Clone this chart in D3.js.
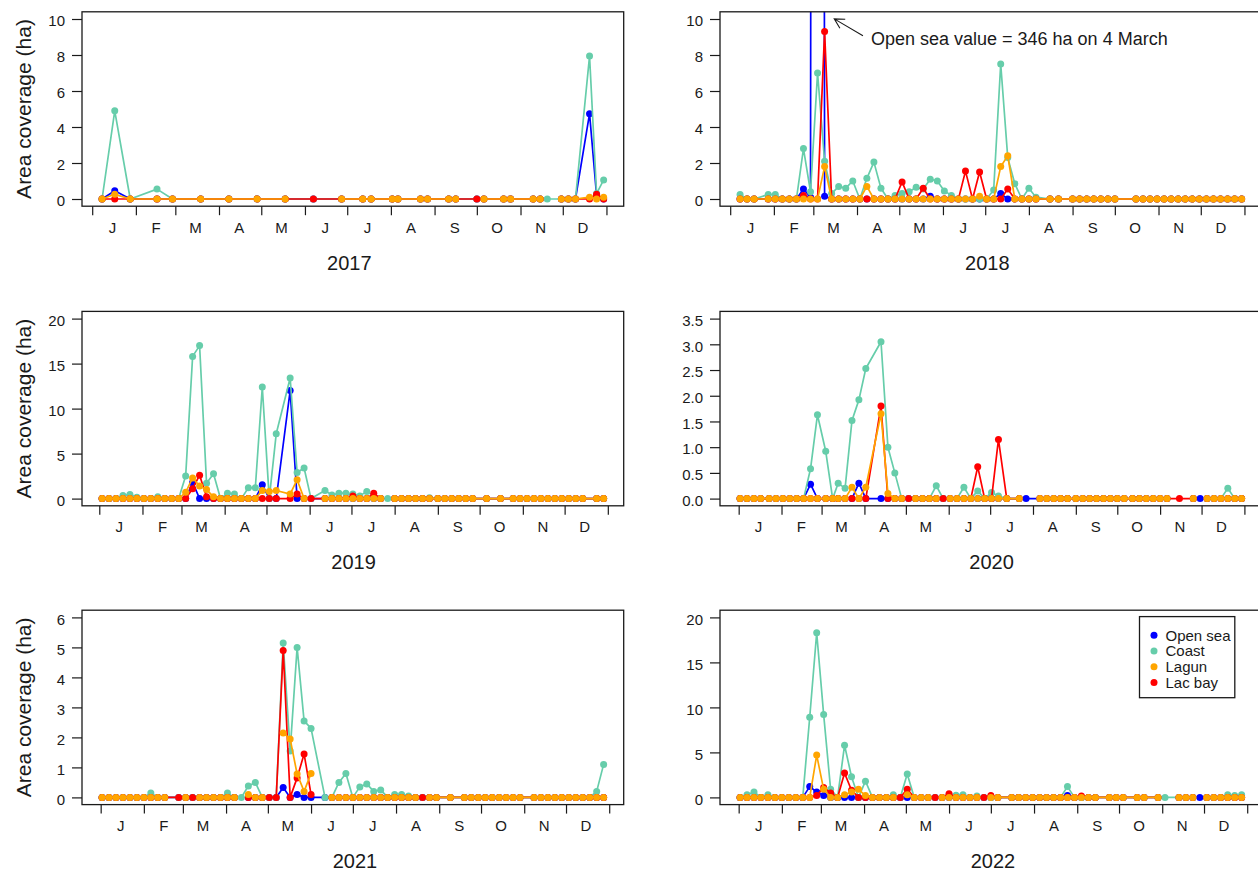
<!DOCTYPE html>
<html>
<head>
<meta charset="utf-8">
<script src="https://cdn.jsdelivr.net/npm/d3@7"></script>
<style>
  body { margin: 0; background: #fff; }
  svg { display: block; font-family: "Liberation Sans", Arial, sans-serif; }
</style>
</head>
<body>
<svg id="chart" width="1258" height="873"></svg>
<script>
// ---- Sargassum area coverage (ha) per site, sampled roughly every 5 days ----
// Sample dates are day-of-year (1 = 1 January); null = site not observed on that date.

const monthLabels = ["J", "F", "M", "A", "M", "J", "J", "A", "S", "O", "N", "D"];
const seriesNames = ["Open sea", "Coast", "Lagun", "Lac bay"];
const seriesColors = ["#0000FF", "#66CDAA", "#FFA500", "#FF0000"];
const yLabel = "Area coverage (ha)";
const note2018 = "Open sea value = 346 ha on 4 March";

// 2017
const dayOfYear2017 = [8,17,28,47,58,78,98,118,138,158, 178,193,199,214,218,234,239,254,259,274,
  279,293,298,314,319,324,334,339,344,354, 359,364];
const openSea2017 = [0,0.46,0,0,0,0,0,0,0,0, 0,0,0,0,0,0,0,0,0,0, 0,0,0,0,0,null,0,0,0,4.74, 0.2,0];
const coast2017   = [0,4.9,0,0.55,0,0,0,0,0,0, 0,0,0,0,0,0,0,0,0,0, 0,0,0,0,0,0,0,0,0,7.94, 0.3,1.06];
const lagun2017   = [0,0.26,0,0,0,0,0,0,0,null, 0,0,0,0,0,0,0,0,0,null, 0,0,0,0,0,null,0,0,0,0.1, 0,0.1];
const lacBay2017  = [0,0,0,0,0,0,0,0,0,0, 0,0,0,0,0,0,0,0,0,0, 0,0,0,0,0,null,0,0,0,0, 0.26,0];
const yTicks2017 = [0, 2, 4, 6, 8, 10];

// 2018
const dayOfYear2018 = [8,13,18,28,33,38,43,48,53,58, 63,68,73,78,83,88,93,98,103,108,
  113,118,123,128,133,138,143,148,153,158, 163,168,173,178,183,188,193,198,203,208,
  213,218,228,234,244,249,254,259,264,269, 274,289,294,299,304,309,314,319,324,329,
  334,339,344,349,354,359,364];
const openSea2018 = [0,0,0,0,0,0,0,0,0.55,0.1, 346,0.15,0,0,0,0,0,0,0,0, 0,0,0,0,0,0,0.15,0,0,0,
  0,0,0,0,0,0,0.3,0,0,0, 0,0,0,0,0,0,0,0,0,0, 0,0,0,0,0,0,0,0,0,0, 0,0,0,0,0,0,0];
const coast2018   = [0.25,0,0,0.25,0.25,0,0,0,2.8,0.4, 7.0,2.1,0.3,0.7,0.6,1.0,0,1.15,2.05,0.6,
  0,0.2,0.3,0.4,0.65,0.55,1.1,1.0,0.45,0.2, 0,0,0,0,0,0.5,7.5,2.3,0.85,0,
  0.6,0.1,0,0,0,0,0,0,0,0, 0,0,0,0,0,0,0,0,0,0, 0,0,0,0,0,0,0];
const lagun2018   = [0,0,0,0,0,0,0,0,0,0, 0,1.8,0,0,0,0,0,0.7,0,0, 0,0,0,0,0,0,0,0,0,0,
  0,0,0,0.15,0,0,1.8,2.4,0,0, 0,0,0,0,0,0,0,0,0,0, 0,0,0,0,0,0,0,0,0,0, 0,0,0,0,0,0,0];
const lacBay2018  = [0,0,0,0,0,0,0,0,0.2,0, 0,9.3,0,0,0,0,0,0,0,0, 0,0,0.95,0,0,0.6,0,0,0,0,
  0,1.55,0,1.5,0,0,0,0.55,0,0, 0,0,0,0,0,0,0,0,0,0, 0,0,0,0,0,0,0,0,0,0, 0,0,0,0,0,0,0];
const yTicks2018 = [0, 2, 4, 6, 8, 10];

// 2019
const dayOfYear2019 = [3,8,13,18,23,28,33,38,43,48, 53,58,63,68,73,78,83,88,93,98,
  103,108,113,118,123,128,138,143,148,153, 163,168,173,178,183,188,193,198,203,208,
  213,218,223,228,233,238,244,249,254,259, 264,269,279,289,298,303,308,313,318,323,
  328,333,338,343,348,358,363];
const openSea2019 = [0,0,0,0,0,0,0,0,0,0, 0,0,0,1.8,0,0,0,0,0,0, 0,0,0,1.55,0,0,12.0,0,0,0,
  0,0,0,0,0,0,0,0,0,null, 0,0,0,0,0,0,0,0,0,0, 0,0,0,0,0,0,0,0,0,0, 0,0,0,0,0,0,0];
const coast2019   = [0,0,0,0.35,0.45,0.15,0,0,0.2,0, 0,0,2.5,15.8,17.0,1.7,2.75,0,0.6,0.5,
  0,1.2,1.2,12.4,0,7.2,13.4,2.9,3.4,0, 0.9,0.4,0.6,0.6,0.5,0.3,0.8,0.3,0,0,
  0,0,0,0,0,0.1,0,0,0,0, 0,0,0,0,0,0,0,0,0,0, 0,0,0,0,0,0,0];
const lagun2019   = [0,0,0,0,0,0,0,0,0,0, 0,0,0.7,2.3,1.4,1.0,0.2,0,0,0, 0,0,0,0.9,0.8,0.9,0.5,2.1,0,null,
  0,0,0,0,0,0,0,0,0,null, 0,0,0,0,0,0,0,0,0,0, 0,0,0,0,0,0,0,0,0,0, 0,0,0,0,0,0,0];
const lacBay2019  = [0,0,0,0,0,0,0,0,0,0, 0,0,0,1.1,2.6,0.2,0,0,0,0, 0,0,0,0,0,0,0,0.5,0,0,
  0,0,0,0,0.3,0,0,0.6,0,null, 0,0,0,0,0,0,0,0,0,0, 0,0,0,0,0,0,0,0,0,0, 0,0,0,0,0,0,0];
const yTicks2019 = [0, 5, 10, 15, 20];

// 2020
const dayOfYear2020 = [2,7,12,17,23,28,33,38,43,48, 53,58,64,69,73,78,83,88,93,104,
  109,114,119,124,129,134,139,144,149,154, 159,164,169,174,179,184,189,195,204,209,
  219,224,229,234,239,245,250,255,260,265, 270,275,280,286,291,296,301,306,311,320,
  330,335,340,345,350,355,360,365];
const openSea2020 = [0,0,0,0,0,0,0,0,0,0, 0.28,0,0,0,0,0,0,0.3,0,0, 0,0,0,0,0,0,0,0,0,0,
  0,0,0,0,0,0,0,0,0,0, 0,0,0,0,0,0,0,0,0,0, 0,0,0,0,0,0,0,0,0,null, 0,0,0,0,0,0,0,0];
const coast2020   = [0,0,0,0,0,0,0,0,0,0, 0.58,1.63,0.92,0,0.3,0.2,1.52,1.92,2.53,3.05,
  1.0,0.5,0,0,0,0,0,0.25,0,0, 0,0.22,0,0.15,0,0.12,0.05,0,0,null,
  0,0,0,0,0,0,0,0,0,0, 0,0,0,0,0,0,0,0,0,null, 0,null,0,0,0,0.2,0,0];
const lagun2020   = [0,0,0,0,0,0,0,0,0,0, 0,0,0,0,0,0,0.22,0,0.22,1.65, 0.1,0,0,null,0,0,0,0,null,0,
  0,0,0,0,0,0,0,0,0,null, 0,0,0,0,0,0,0,0,0,0, 0,0,0,0,0,0,0,0,0,null, 0,null,0,0,0,0,0,0];
const lacBay2020  = [0,0,0,0,0,0,0,0,0,0, 0,0,0,0,0,0,0,0,0,1.8, 0,0,0,0,0,0,0,0,0,0,
  0,0,0,0.62,0,0,1.15,0,0,null, 0,0,0,0,0,0,0,0,0,0, 0,0,0,0,0,0,0,0,0,0, 0,null,0,0,0,0,0,0];
const yTicks2020 = [0, 0.5, 1, 1.5, 2, 2.5, 3, 3.5];

// 2021
const dayOfYear2021 = [2,7,12,17,22,27,32,37,42,47, 57,62,67,72,77,82,87,92,97,102,
  107,112,117,122,127,132,137,142,147,152, 162,167,172,177,182,187,192,197,202,207,
  212,217,222,227,232,237,242,252,262,267, 272,277,282,287,292,297,302,312,317,322,
  327,332,337,342,347,352,357,362];
const openSea2021 = [0,0,0,0,0,0,0,0,0,0, 0,0,0,0,0,0,0,0,0,null, 0,0,0,0,0,0.33,0,0.1,0,0,
  0,0,0,0,0,0,0,0,0,0, 0,0,0,0,0,0,0,0,0,0, 0,0,0,0,0,0,0,0,0,0, 0,0,0,0,0,0,0,0];
const coast2021   = [0,0,0,0,0,0,0,0.15,0,0, 0,0,0,0,0,0,0,0.15,0,0,
  0.38,0.5,0,0,0,5.15,1.55,5.0,2.55,2.3, 0,0,0.5,0.8,0,0.35,0.45,0.2,0.25,0,
  0.1,0.1,0.05,0,0,0,0,0,0,0, 0,0,0,0,0,0,0,0,0,0, 0,0,0,0,0,0,0.2,1.1];
const lagun2021   = [0,0,0,0,0,0,0,0,0,0, null,0,null,0,0,0,0,0,0,null,
  0.1,0,0,null,null,2.15,1.95,0.78,0.2,0.8, null,0,0,0,0,0,0,0,0,0,
  0,0,0,0,null,0,0,0,0,0, 0,0,0,0,0,0,0,0,0,0, 0,0,0,0,0,0,0,0];
const lacBay2021  = [0,0,0,0,0,0,0,0,0,0, 0,0,0,0,0,0,0,0,0,null, 0,0,0,0,0,4.9,0,0.65,1.45,0.1,
  null,0,0,0,0,0,0,0,0,0, 0,0,0,0,0,0,0,0,0,0, 0,0,0,0,0,0,0,0,0,0, 0,0,0,0,0,0,0,0];
const yTicks2021 = [0, 1, 2, 3, 4, 5, 6];

// 2022
const dayOfYear2022 = [2,7,12,17,22,27,32,37,42,47, 52,57,62,67,72,77,82,87,92,97,
  102,107,112,117,122,127,132,137,142,147, 152,157,162,167,172,177,182,187,197,202,
  207,212,217,222,227,232,237,242,247,252, 257,267,272,277,287,292,302,307,317,322,
  327,332,337,342,347,352,357,362];
const openSea2022 = [0,0,0,0,0,0,0,0,0,0, 1.2,0.6,0.2,0,0,0,0,0,0,0, 0,0,0,0,0,0,0,0,0,0,
  0,0,0,0,0,0,0,0,0,0, 0,0,0,0,0,0,0.2,0,0,0, 0,0,0,0,0,0,0,null,0,0, 0,0,0,0,0,0,0,0];
const coast2022   = [0,0.3,0.6,0,0.3,0,0,0,0,0, 8.9,18.3,9.2,0.9,0,5.8,2.3,0,1.8,0,
  0,0,0.3,0,2.6,0,0,0,0,0, 0.3,0.25,0.3,0,0.15,0,0,0,0,0,
  0,0,0,0,0,0,1.2,0,0,0, 0,0,0,0,0,0,0,0,0,0, 0,null,0,0,0,0.3,0.2,0.3];
const lagun2022   = [0,0,0,0,0,0,0,0,0,0, 0,4.7,0.9,0,0,0.3,0.6,0.9,0.2,0, 0,0,0,null,0.3,0,0,0,null,0,
  0,0,0,0,0,null,0,0,0,0, 0,0,0,0,0,0,0,0,0,0, 0,0,0,0,0,0,0,null,0,0, 0,null,0,0,0,0,0,0];
const lacBay2022  = [0,0,0,0,0,0,0,0,0,0, 0,0.2,1.1,0.5,0,2.7,0.8,0,0,0, 0,0,0,0,0.9,0,0,0,0,0,
  0.4,0,0,0,0,0,0.2,0,0,0, 0,0,0,0,0,0,0,0,0.15,0, 0,0,0,0,0,0,0,null,0,0, 0,null,0,0,0,0,0,0];
const yTicks2022 = [0, 5, 10, 15, 20];

// ---- panel table built from the arrays above ----
const panels = [
  { year: 2017, days: dayOfYear2017, values: [openSea2017, coast2017, lagun2017, lacBay2017], yTicks: yTicks2017, row: 0, col: 0 },
  { year: 2018, days: dayOfYear2018, values: [openSea2018, coast2018, lagun2018, lacBay2018], yTicks: yTicks2018, row: 0, col: 1, note: note2018 },
  { year: 2019, days: dayOfYear2019, values: [openSea2019, coast2019, lagun2019, lacBay2019], yTicks: yTicks2019, row: 1, col: 0 },
  { year: 2020, days: dayOfYear2020, values: [openSea2020, coast2020, lagun2020, lacBay2020], yTicks: yTicks2020, row: 1, col: 1 },
  { year: 2021, days: dayOfYear2021, values: [openSea2021, coast2021, lagun2021, lacBay2021], yTicks: yTicks2021, row: 2, col: 0 },
  { year: 2022, days: dayOfYear2022, values: [openSea2022, coast2022, lagun2022, lacBay2022], yTicks: yTicks2022, row: 2, col: 1, legend: true }
];

panels.forEach(p => p.values.forEach((v, k) => {
  if (v.length !== p.days.length) throw new Error(`${p.year} ${seriesNames[k]}: ${v.length} values for ${p.days.length} dates`);
}));

// ---- layout ----
const BOX_W = 541.7, BOX_H = 194.4;
const colLeft = [82, 720];
const rowTop = [11.8, 311.4, 610.2];
const drawOrder = [0, 1, 3, 2];   // open sea, coast, lac bay, then lagun on top
const ink = "#1a1a1a";
const DOT_R = 3.5, LINE_W = 1.7;

const svg = d3.select("#chart");
const defs = svg.append("defs");

panels.forEach(p => {
  const x0 = colLeft[p.col], y0 = rowTop[p.row];
  const dates = p.days.map(d => new Date(p.year, 0, d));
  const tMin = +dates[0], tMax = +dates[dates.length - 1];
  const pad = (tMax - tMin) * 0.04;
  const x = d3.scaleTime()
    .domain([new Date(tMin - pad), new Date(tMax + pad)])
    .range([x0, x0 + BOX_W]);
  const yMax = d3.max(p.yTicks);
  const y = d3.scaleLinear()
    .domain([-0.04 * yMax, 1.04 * yMax])
    .range([y0 + BOX_H, y0]);

  const g = svg.append("g").attr("class", "panel-" + p.year);

  // clip region = plotting box
  const clipId = "clip-" + p.year;
  defs.append("clipPath").attr("id", clipId)
    .append("rect").attr("x", x0).attr("y", y0).attr("width", BOX_W).attr("height", BOX_H);

  // y axis
  const fmt = p.yTicks.some(t => t % 1 !== 0) ? d3.format(".1f") : d3.format("d");
  const yAxis = g.append("g")
    .attr("transform", `translate(${x0},0)`)
    .call(d3.axisLeft(y).tickValues(p.yTicks).tickSize(10).tickPadding(7).tickFormat(fmt));
  yAxis.select(".domain").remove();
  yAxis.selectAll(".tick line").attr("stroke", ink).attr("stroke-width", 1.2);
  yAxis.selectAll(".tick text")
    .attr("fill", ink).attr("font-size", 15)
    .attr("font-family", '"Liberation Sans", Arial, sans-serif')
    .attr("dy", "0.45em");

  // x axis: ticks on month boundaries, letters on the 15th
  const monthStarts = d3.range(13).map(m => new Date(p.year, m, 1));
  const monthMids = d3.range(12).map(m => new Date(p.year, m, 15));
  const xTicks = g.append("g")
    .attr("transform", `translate(0,${y0 + BOX_H})`)
    .call(d3.axisBottom(x).tickValues(monthStarts).tickSize(9).tickFormat(""));
  xTicks.select(".domain").remove();
  xTicks.selectAll(".tick line").attr("stroke", ink).attr("stroke-width", 1.2);

  const xLabels = g.append("g")
    .attr("transform", `translate(0,${y0 + BOX_H})`)
    .call(d3.axisBottom(x).tickValues(monthMids).tickSize(0).tickPadding(16)
      .tickFormat((d, i) => monthLabels[i]));
  xLabels.select(".domain").remove();
  xLabels.selectAll(".tick text")
    .attr("fill", ink).attr("font-size", 15)
    .attr("font-family", '"Liberation Sans", Arial, sans-serif');

  // year title centred on the year
  const xMidYear = (x(monthStarts[0]) + x(monthStarts[12])) / 2;
  g.append("text")
    .attr("x", xMidYear).attr("y", y0 + 257.7)
    .attr("text-anchor", "middle").attr("font-size", 20).attr("fill", ink)
    .text(p.year);

  // y label on the left column only
  if (p.col === 0) {
    g.append("text")
      .attr("transform", `translate(31,${y0 + BOX_H / 2}) rotate(-90)`)
      .attr("text-anchor", "middle").attr("font-size", 21).attr("fill", ink)
      .text(yLabel);
  }

  // series: lines broken at missing observations, filled dots
  const plot = g.append("g").attr("clip-path", `url(#${clipId})`);
  drawOrder.forEach(s => {
    const pts = dates.map((d, i) => ({ date: d, v: p.values[s][i] }));
    const line = d3.line()
      .defined(d => d.v != null)
      .x(d => x(d.date))
      .y(d => y(d.v));
    plot.append("path")
      .datum(pts)
      .attr("d", line)
      .attr("fill", "none")
      .attr("stroke", seriesColors[s])
      .attr("stroke-width", LINE_W)
      .attr("stroke-linejoin", "round");
    plot.append("g").selectAll("circle")
      .data(pts.filter(d => d.v != null))
      .join("circle")
      .attr("cx", d => x(d.date))
      .attr("cy", d => y(d.v))
      .attr("r", DOT_R)
      .attr("fill", seriesColors[s]);
  });

  // plotting box
  g.append("rect")
    .attr("x", x0).attr("y", y0).attr("width", BOX_W).attr("height", BOX_H)
    .attr("fill", "none").attr("stroke", ink).attr("stroke-width", 1.3);

  // note for the off-scale open sea value
  if (p.note) {
    const iPeak = d3.maxIndex(p.values[0]);
    const xp = x(dates[iPeak]);
    const tip = [xp + 16.7, y0 + 7.1];
    const tail = [xp + 45.4, y0 + 24];
    const ang = Math.atan2(tail[1] - tip[1], tail[0] - tip[0]);
    const hl = 11, ha = 0.5;
    const h1 = [tip[0] + hl * Math.cos(ang - ha), tip[1] + hl * Math.sin(ang - ha)];
    const h2 = [tip[0] + hl * Math.cos(ang + ha), tip[1] + hl * Math.sin(ang + ha)];
    g.append("path")
      .attr("d", `M${tail}L${tip}M${h1}L${tip}L${h2}`)
      .attr("fill", "none").attr("stroke", ink).attr("stroke-width", 1.1);
    g.append("text")
      .attr("x", xp + 53.4).attr("y", y0 + 32.8)
      .attr("font-size", 18).attr("fill", ink)
      .text(p.note);
  }

  // legend
  if (p.legend) {
    const lx = x0 + 419.5, ly = y0 + 6.4;
    const lg = g.append("g");
    lg.append("rect")
      .attr("x", lx).attr("y", ly).attr("width", 95.3).attr("height", 81.1)
      .attr("fill", "#fff").attr("stroke", ink).attr("stroke-width", 1.3);
    seriesNames.forEach((name, k) => {
      const cy = ly + 18.6 + k * 15.8;
      lg.append("circle").attr("cx", lx + 14.5).attr("cy", cy).attr("r", DOT_R).attr("fill", seriesColors[k]);
      lg.append("text").attr("x", lx + 26).attr("y", cy + 5.3)
        .attr("font-size", 15).attr("fill", ink).text(name);
    });
  }
});
</script>
</body>
</html>
